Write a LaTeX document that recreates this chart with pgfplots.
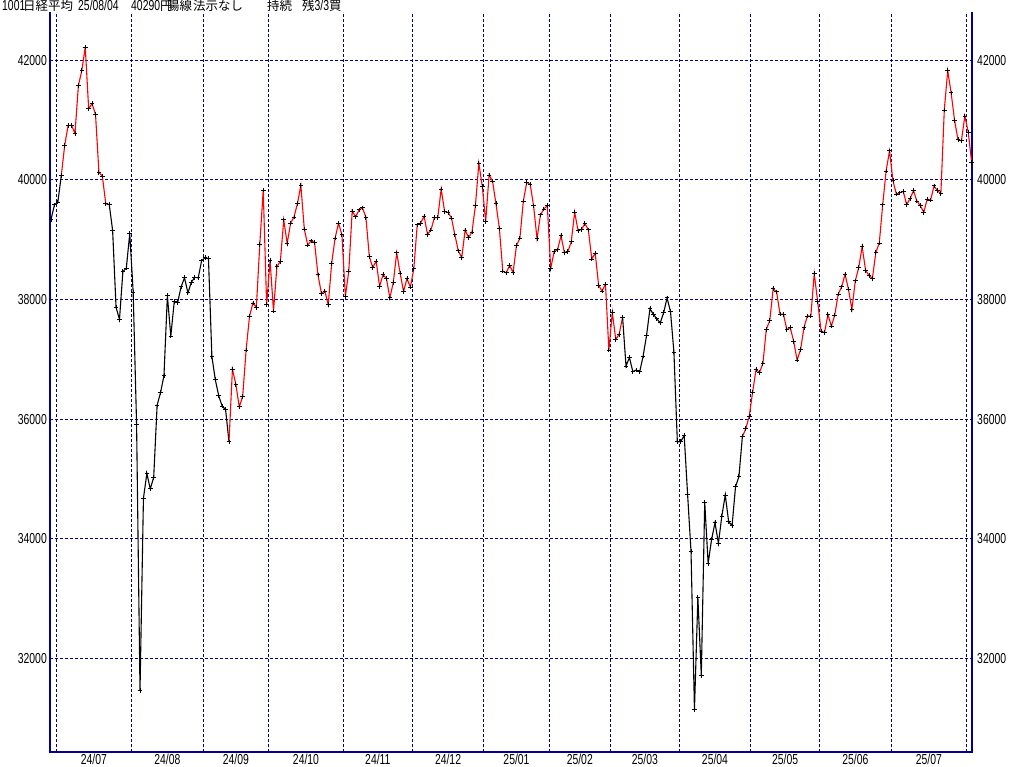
\documentclass[border=0pt]{standalone}
\usepackage{fontspec}
\usepackage{pgfplots}
\usepackage{pgfplotstable}
\pgfplotsset{compat=1.18}
\newfontfamily\lblfont[FakeStretch=0.72]{Liberation Sans}
\newfontfamily\jpfont{Noto Sans CJK JP}
\definecolor{gridnavy}{HTML}{000080}
\definecolor{framecol}{HTML}{000099}

\pgfplotstableread{
i v
0 39341
1 39583
2 39631
3 40074
4 40580
5 40913
6 40912
7 40780
8 41580
9 41831
10 42224
11 41190
12 41275
13 41097
14 40126
15 40063
16 39599
17 39594
18 39154
19 37869
20 37667
21 38468
22 38526
23 39101
24 38126
25 35909
26 31458
27 34675
28 35089
29 34831
30 35025
31 36232
32 36442
33 36726
34 38062
35 37388
36 37963
37 37951
38 38211
39 38364
40 38110
41 38288
42 38371
43 38362
44 38647
45 38700
46 38686
47 37047
48 36657
49 36391
50 36215
51 36159
52 35619
53 36833
54 36581
55 36203
56 36380
57 37155
58 37723
59 37940
60 37870
61 38925
62 39829
63 37919
64 38651
65 37808
66 38552
67 38635
68 39332
69 38937
70 39277
71 39380
72 39605
73 39910
74 39180
75 38911
76 38981
77 38954
78 38411
79 38104
80 38143
81 37913
82 38605
83 39027
84 39277
85 39081
86 38053
87 38474
88 39480
89 39381
90 39500
91 39533
92 39376
93 38721
94 38535
95 38642
96 38220
97 38414
98 38352
99 38026
100 38283
101 38780
102 38442
103 38134
104 38349
105 38208
106 38513
107 39248
108 39276
109 39395
110 39091
111 39160
112 39367
113 39372
114 39849
115 39470
116 39457
117 39364
118 39081
119 38813
120 38701
121 39161
122 39036
123 39130
124 39568
125 40281
126 39894
127 39307
128 40083
129 39981
130 39605
131 39190
132 38474
133 38445
134 38572
135 38451
136 38902
137 39027
138 39646
139 39959
140 39931
141 39566
142 39016
143 39415
144 39514
145 39572
146 38520
147 38798
148 38831
149 39066
150 38787
151 38801
152 38963
153 39461
154 39149
155 39174
156 39270
157 39164
158 38678
159 38776
160 38237
161 38142
162 38256
163 37155
164 37785
165 37331
166 37418
167 37704
168 36887
169 37028
170 36793
171 36819
172 36790
173 37053
174 37396
175 37845
176 37751
177 37677
178 37608
179 37780
180 38027
181 37799
182 37120
183 35617
184 35624
185 35725
186 34736
187 33780
188 31136
189 33012
190 31714
191 34609
192 33585
193 33982
194 34267
195 33920
196 34377
197 34730
198 34280
199 34220
200 34868
201 35039
202 35705
203 35839
204 36045
205 36452
206 36831
207 36780
208 36928
209 37503
210 37644
211 38183
212 38128
213 37755
214 37753
215 37498
216 37529
217 37299
218 36985
219 37160
220 37532
221 37724
222 37722
223 38432
224 37965
225 37470
226 37446
227 37747
228 37554
229 37741
230 38089
231 38211
232 38421
233 38173
234 37834
235 38311
236 38536
237 38885
238 38488
239 38403
240 38354
241 38790
242 38942
243 39584
244 40150
245 40487
246 39986
247 39762
248 39785
249 39810
250 39588
251 39688
252 39821
253 39646
254 39569
255 39459
256 39678
257 39663
258 39901
259 39819
260 39775
261 41171
262 41826
263 41456
264 40998
265 40674
266 40654
267 41069
268 40800
269 40290
}\nikkei

\pgfplotsset{
  common/.style={
    at={(50bp,15bp)}, anchor=south west,
    scale only axis, width=922bp, height=740bp,
    xmin=-0.3, xmax=269.1, ymin=30430, ymax=42810,
    major tick length=0pt,
    axis line style={draw=none},
    clip=false,
    scaled y ticks=false,
    ytick={32000,34000,36000,38000,40000,42000},
    yticklabel={\pgfmathprintnumber[fixed,precision=0,1000 sep={}]{\tick}},
    /pgf/number format/assume math mode=true,
    /pgf/number format/1000 sep={},
    tick label style={font=\lblfont\fontsize{14.5}{15}\selectfont, text=black},
  }
}

\begin{document}
\begin{tikzpicture}[x=1bp,y=1bp]
\path[use as bounding box] (0,0) rectangle (1024,767);

% title
\node[anchor=base west, inner sep=0pt, font=\lblfont\fontsize{14.5}{15}\selectfont] at (2,756) {1001};
\node[anchor=base west, inner sep=0pt, font=\jpfont\fontsize{12.5}{13}\selectfont] at (23,756) {日経平均};
\node[anchor=base west, inner sep=0pt, font=\lblfont\fontsize{14.5}{15}\selectfont] at (78,756) {25/08/04};
\node[anchor=base west, inner sep=0pt, font=\lblfont\fontsize{14.5}{15}\selectfont] at (131,756) {40290{\jpfont\fontsize{12.5}{13}\selectfont 円}};
\node[anchor=base west, inner sep=0pt, font=\jpfont\fontsize{12.5}{13}\selectfont] at (167,756) {陽線};
\node[anchor=base west, inner sep=0pt, font=\jpfont\fontsize{12.5}{13}\selectfont] at (193,756) {法示なし};
\node[anchor=base west, inner sep=0pt, font=\jpfont\fontsize{12.5}{13}\selectfont] at (267,756) {持続};
\node[anchor=base west, inner sep=0pt, font=\jpfont\fontsize{12.5}{13}\selectfont] at (302,756) {残{\lblfont\fontsize{14.5}{15}\selectfont 3/3}買};

\begin{axis}[common,
  xtick={1.5,23.5,44.5,63.5,85.5,105.5,126.5,145.5,163.5,183.5,204.5,224.5,245.5,267.5},
  xticklabels={},
  extra x ticks={12.5,34,54,74.5,95.5,116,136,154.5,173.5,194,214.5,235,256.5},
  extra x tick labels={24/07,24/08,24/09,24/10,24/11,24/12,25/01,25/02,25/03,25/04,25/05,25/06,25/07},
  extra x tick style={grid=none, major tick length=0pt,
    xticklabel style={anchor=north, inner sep=0pt, yshift=-1.5bp}},
  yticklabel style={anchor=east, inner sep=0pt, xshift=-3bp},
  grid=major,
  major grid style={gridnavy, dash pattern=on 3bp off 2bp, line width=1bp},
]
\draw[framecol, line width=1.5bp] (rel axis cs:0,1) -- (rel axis cs:0,0) -- (rel axis cs:1,0) -- (rel axis cs:1,1);
\addplot[black, line width=1.1bp, no marks, restrict x to domain=0:3] table[x=i,y=v] {\nikkei};
\addplot[red, line width=1.1bp, no marks, restrict x to domain=3:17] table[x=i,y=v] {\nikkei};
\addplot[black, line width=1.1bp, no marks, restrict x to domain=17:52] table[x=i,y=v] {\nikkei};
\addplot[red, line width=1.1bp, no marks, restrict x to domain=52:167] table[x=i,y=v] {\nikkei};
\addplot[black, line width=1.1bp, no marks, restrict x to domain=167:202] table[x=i,y=v] {\nikkei};
\addplot[red, line width=1.1bp, no marks, restrict x to domain=202:269] table[x=i,y=v] {\nikkei};
\addplot[only marks, mark=+, mark size=2.3bp, black, mark options={line width=0.9bp}] table[x=i,y=v] {\nikkei};
\end{axis}

\begin{axis}[common,
  axis x line=none, axis y line*=right,
  yticklabel style={anchor=west, inner sep=0pt, xshift=5bp},
]
\addplot[draw=none, no marks] coordinates {(0,35000)};
\end{axis}
\end{tikzpicture}
\end{document}
